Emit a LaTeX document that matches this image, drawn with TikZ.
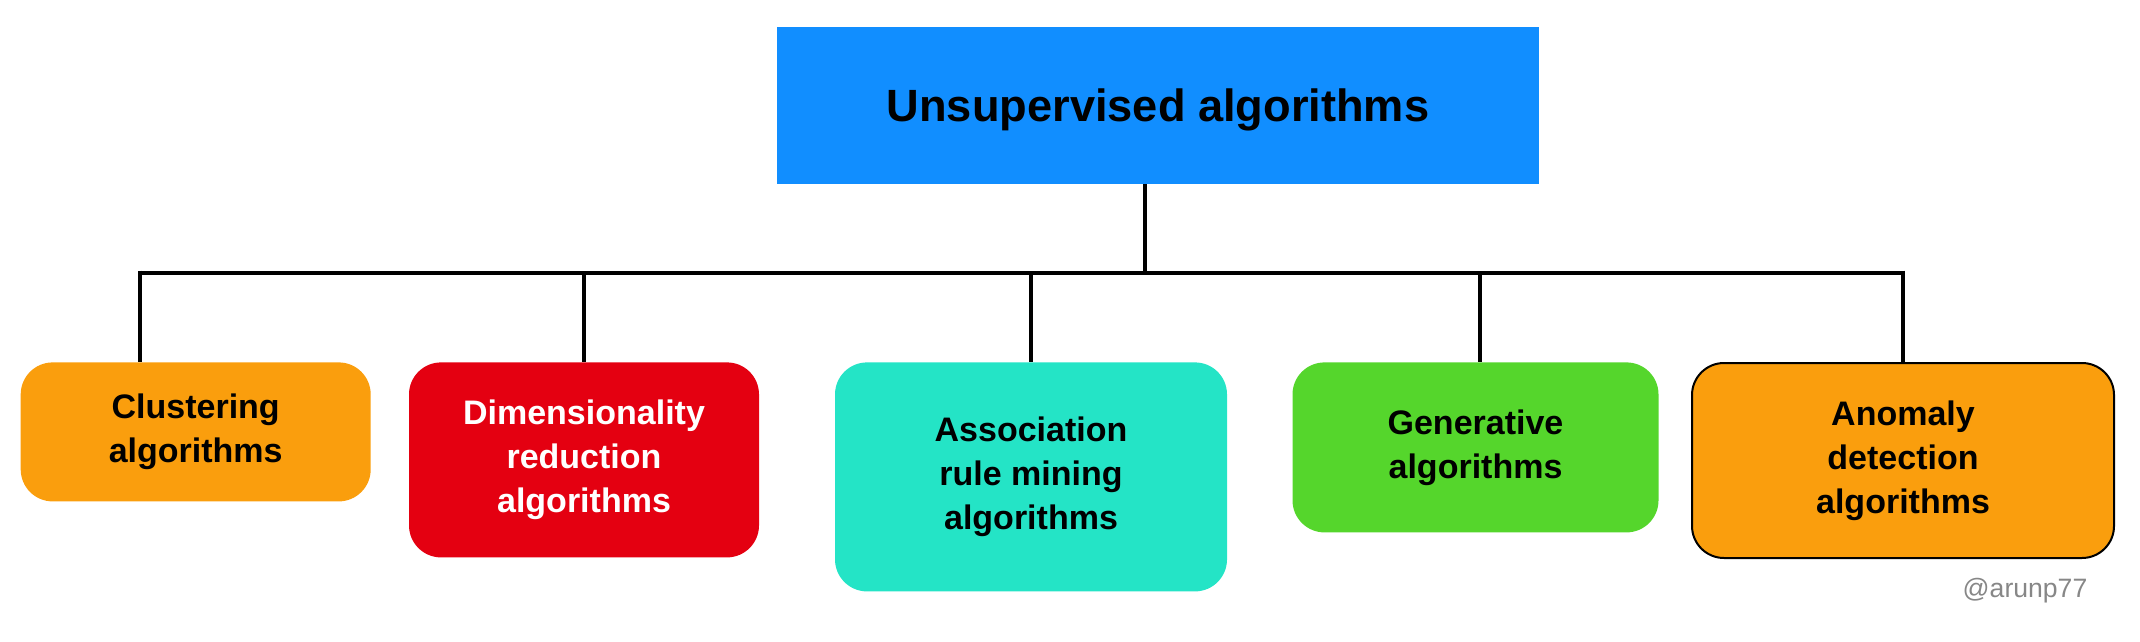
\documentclass[tikz,border=0pt]{standalone}
\usepackage{fontspec}
\setmainfont{Liberation Sans}
\usepackage{xcolor}
\usepackage{tikz}
\usetikzlibrary{positioning}

\definecolor{topblue}{RGB}{17,142,255}
\definecolor{orangebox}{RGB}{250,158,13}
\definecolor{redbox}{RGB}{228,0,17}
\definecolor{tealbox}{RGB}{36,228,198}
\definecolor{greenbox}{RGB}{85,214,44}
\definecolor{markgray}{RGB}{135,135,135}

\tikzset{
    algobox/.style={rectangle, rounded corners=16pt, inner sep=0pt, anchor=north, align=center,
        font=\fontsize{17}{22}\selectfont\bfseries},
    link/.style={line width=2pt},
    bar/.style={line width=2.4pt},
}

\begin{document}
\begin{tikzpicture}[x=0.5pt,y=-0.5pt]
    \useasboundingbox (0,0) rectangle (2140,642);

    \node[rectangle, fill=topblue, minimum width=381pt, minimum height=78.5pt, text depth=0pt,
        font=\fontsize{22.6}{27}\selectfont\bfseries] (unsup) at (1158,105.5) {Unsupervised algorithms};

    \node[algobox, fill=orangebox, minimum width=175pt, minimum height=69.5pt] (cluster) at (195.7,362) {Clustering\\algorithms};
    \node[algobox, fill=redbox, text=white, minimum width=175pt, minimum height=97.5pt] (dimred) at (584,362) {Dimensionality\\reduction\\algorithms};
    \node[algobox, fill=tealbox, minimum width=196pt, minimum height=114.5pt] (assoc) at (1031,362) {Association\\rule mining\\algorithms};
    \node[algobox, fill=greenbox, minimum width=183pt, minimum height=85pt] (gener) at (1475.5,362) {Generative\\algorithms};
    \node[algobox, fill=orangebox, draw=black, line width=1pt, minimum width=211pt, minimum height=97.5pt] (anomaly) at (1903,362) {Anomaly\\detection\\algorithms};

    \node[font=\fontsize{13.3}{16}\selectfont, text=markgray] (mark) at (2025,591) {@arunp77};

    \coordinate (stem) at (1145,273);
    \coordinate (barleft) at (140,273);
    \coordinate (barright) at (1903,273);

    \draw[link] (stem |- unsup.south) -- (stem);
    \draw[bar] (barleft) -- (barright);

    \draw[link] ([yshift=1.2pt]barleft) -- (cluster.north -| barleft);
    \draw[link] (dimred.north |- barleft) -- (dimred.north);
    \draw[link] (assoc.north |- barleft) -- (assoc.north);
    \draw[link] ([xshift=2pt]gener.north |- barleft) -- ([xshift=2pt]gener.north);
    \draw[link] ([yshift=1.2pt]barright) -- (anomaly.north);

\end{tikzpicture}
\end{document}
